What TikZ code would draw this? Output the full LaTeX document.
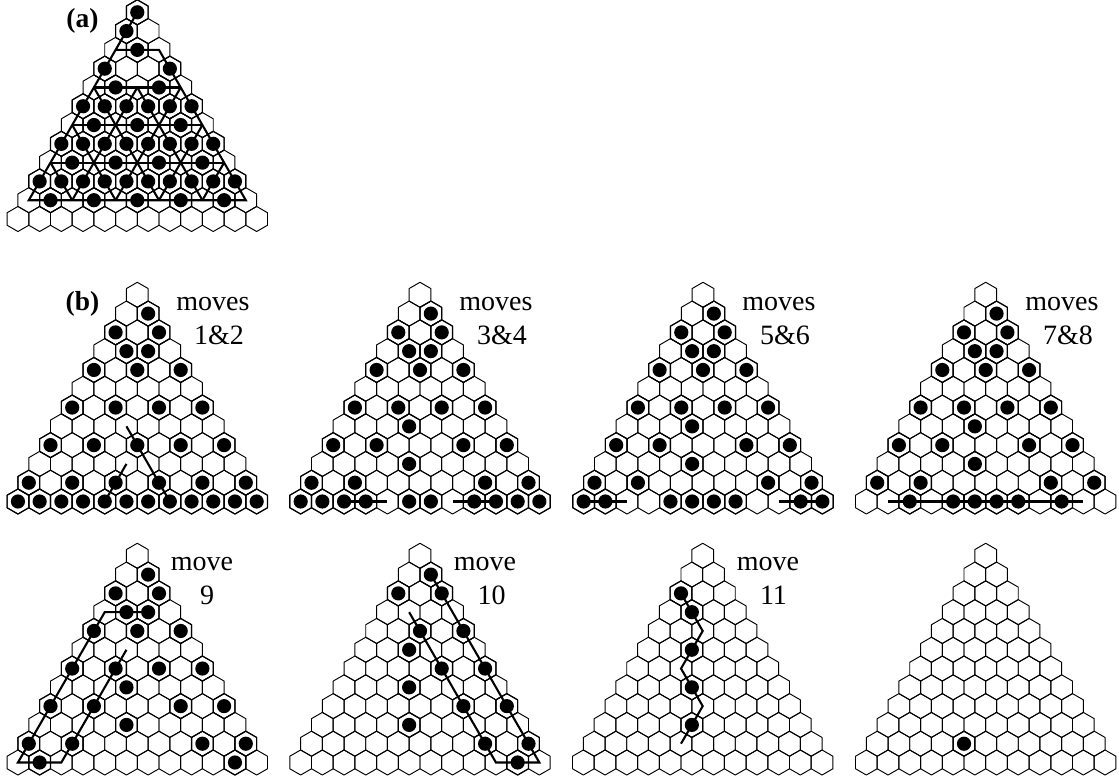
\documentclass[tikz,border=0pt]{standalone}
\usepackage{fontspec}
\setmainfont{Liberation Serif}
\tikzset{
  hexcell/.style={draw=black,line width=0.95pt,line join=round},
  stonecell/.style={draw=black,line width=1.15pt,line join=round},
  stone/.style={fill=black},
  moveline/.style={draw=black,line width=2.1pt,line join=miter},
  caption/.style={font=\fontsize{28}{33}\selectfont,anchor=base,inner sep=0pt,text=black},
  tag/.style={font=\fontsize{27.5}{30}\selectfont\bfseries,inner sep=0pt,text=black},
  board/.style={shift={#1},x=10.85pt,y=-18.79pt}
}
\newcommand{\hexpath}[2]{(#2,#1-2/3) -- (#2+1,#1-1/3) -- (#2+1,#1+1/3) -- (#2,#1+2/3) -- (#2-1,#1+1/3) -- (#2-1,#1-1/3) -- cycle}
\newcommand{\hexboard}{%
  \foreach \rw in {0,...,11}{%
    \foreach \k in {0,...,\rw}{%
      \pgfmathtruncatemacro{\ofs}{2*\k-\rw}%
      \draw[hexcell] \hexpath{\rw}{\ofs};
    }%
  }%
}
\newcommand{\stones}[1]{%
  \foreach \rw/\ofs in {#1}{%
    \draw[stonecell] \hexpath{\rw}{\ofs};
    \fill[stone] (\ofs,\rw) circle[radius=7.1pt];
  }%
}
\begin{document}
\begin{tikzpicture}[x=1pt,y=-1pt]
\useasboundingbox (0,0) rectangle (1119,780);
\fill[white] (0,0) rectangle (1119,780);

% ---------- (a)
\begin{scope}[board={(137.3,12.3)}]
\hexboard
\stones{0/0,1/-1,2/0,3/-3,3/3,4/-2,4/2,5/-5,5/-3,5/-1,5/1,5/3,5/5,6/-4,6/0,6/4,
7/-7,7/-5,7/-3,7/-1,7/1,7/3,7/5,7/7,8/-6,8/-2,8/2,8/6,
9/-9,9/-7,9/-5,9/-3,9/-1,9/1,9/3,9/5,9/7,9/9,10/-8,10/-4,10/0,10/4,10/8}
\draw[moveline] (0,0) -- (-10,10) -- (10,10) -- (2,2) -- (-2,2);
\draw[moveline] (-4,4) -- (4,4);
\draw[moveline] (-6,6) -- (6,6);
\draw[moveline] (-8,8) -- (8,8);
\draw[moveline] (0,4) -- (-6,10);
\draw[moveline] (0,4) -- (6,10);
\draw[moveline] (-4,4) -- (2,10);
\draw[moveline] (4,4) -- (-2,10);
\draw[moveline] (-6,6) -- (-2,10);
\draw[moveline] (6,6) -- (2,10);
\draw[moveline] (-8,8) -- (-6,10);
\draw[moveline] (8,8) -- (6,10);
\end{scope}
\node[tag,anchor=center] (taga) at (82.5,21) {(a)};

% ---------- row b, first
\begin{scope}[board={(137.3,294.8)}]
\hexboard
\stones{1/1,2/-2,2/2,3/-1,3/1,4/-4,4/0,4/4,6/-6,6/-2,6/2,6/6,8/-8,8/-4,8/0,8/4,8/8,10/-10,10/-6,10/-2,10/2,10/6,10/10,
11/-11,11/-9,11/-7,11/-5,11/-3,11/-1,11/1,11/3,11/5,11/7,11/9,11/11}
\draw[moveline] (-1,7) -- (3,11);
\draw[moveline] (-1,9) -- (-3,11);
\end{scope}
\node[tag,anchor=center] (tagb) at (82.5,304) {(b)};
\node[caption] (m12a) at (213,310) {moves};
\node[caption] (m12b) at (219,344) {1\&2};

\begin{scope}[board={(420,294.8)}]
\hexboard
\stones{1/1,2/-2,2/2,3/-1,3/1,4/-4,4/0,4/4,6/-6,6/-2,6/2,6/6,7/-1,8/-8,8/-4,8/4,8/8,9/-1,10/-10,10/-6,10/6,10/10,
11/-11,11/-9,11/-7,11/-5,11/-1,11/1,11/5,11/7,11/9,11/11}
\draw[moveline] (-7,11) -- (-3,11);
\draw[moveline] (3,11) -- (7,11);
\end{scope}
\node[caption] (m34a) at (496,310) {moves};
\node[caption] (m34b) at (502,344) {3\&4};

\begin{scope}[board={(703,294.8)}]
\hexboard
\stones{1/1,2/-2,2/2,3/-1,3/1,4/-4,4/0,4/4,6/-6,6/-2,6/2,6/6,7/-1,8/-8,8/-4,8/4,8/8,9/-1,10/-10,10/-6,10/6,10/10,
11/-11,11/-9,11/-3,11/-1,11/1,11/3,11/9,11/11}
\draw[moveline] (-11,11) -- (-7,11);
\draw[moveline] (7,11) -- (11,11);
\end{scope}
\node[caption] (m56a) at (779,310) {moves};
\node[caption] (m56b) at (785,344) {5\&6};

\begin{scope}[board={(985.7,294.8)}]
\hexboard
\stones{1/1,2/-2,2/2,3/-1,3/1,4/-4,4/0,4/4,6/-6,6/-2,6/2,6/6,7/-1,8/-8,8/-4,8/4,8/8,9/-1,10/-10,10/-6,10/6,10/10,
11/-7,11/-3,11/-1,11/1,11/3,11/7}
\draw[moveline] (-9,11) -- (9,11);
\end{scope}
\node[caption] (m78a) at (1062,310) {moves};
\node[caption] (m78b) at (1068,344) {7\&8};

% ---------- row c
\begin{scope}[board={(137.3,555.8)}]
\hexboard
\stones{1/1,2/-2,2/2,3/-1,3/1,4/-4,4/0,4/4,6/-6,6/-2,6/2,6/6,7/-1,8/-8,8/-4,8/4,8/8,9/-1,10/-10,10/-6,10/6,10/10,11/-9,11/9}
\draw[moveline] (1,3) -- (-3,3) -- (-11,11) -- (-7,11) -- (-1,5);
\end{scope}
\node[caption] (m9a) at (202,570.5) {move};
\node[caption] (m9b) at (207,604.5) {9};

\begin{scope}[board={(420,555.8)}]
\hexboard
\stones{1/1,2/-2,2/2,4/0,4/4,5/-1,6/2,6/6,7/-1,8/4,8/8,9/-1,10/6,10/10,11/9}
\draw[moveline] (1,1) -- (11,11) -- (7,11) -- (-1,3);
\end{scope}
\node[caption] (m10a) at (485,570.5) {move};
\node[caption] (m10b) at (491.5,604.5) {10};

\begin{scope}[board={(702.7,555.8)}]
\hexboard
\stones{2/-2,3/-1,5/-1,7/-1,9/-1}
\draw[moveline] (-2,2) -- (0,4) -- (-2,6) -- (0,8) -- (-2,10);
\end{scope}
\node[caption] (m11a) at (768,570.5) {move};
\node[caption] (m11b) at (773.5,604.5) {11};

\begin{scope}[board={(985.7,555.8)}]
\hexboard
\stones{10/-2}
\end{scope}
\end{tikzpicture}
\end{document}
